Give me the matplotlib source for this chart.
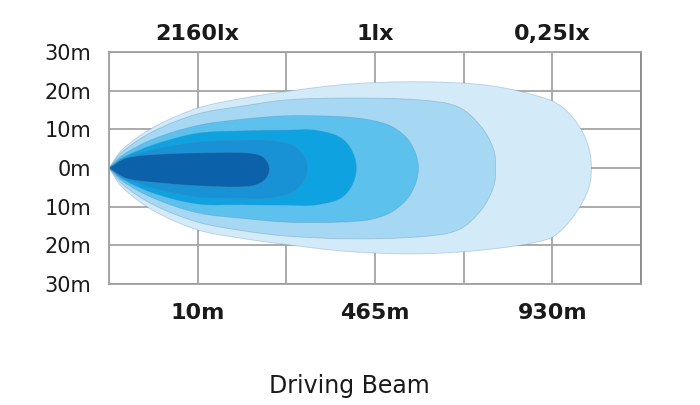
import matplotlib
matplotlib.use("Agg")
import matplotlib.pyplot as plt
import numpy as np
from matplotlib.path import Path
from matplotlib.patches import PathPatch

# Beam contour outlines (x in grid units, y in metres), lightest to darkest.
# Each outline starts at the lamp (0, 0), runs along the top edge to the
# far tip and comes back along the bottom edge.
beam_x = [
    [0, 0.15, 0.5, 1, 1.5, 2, 2.7, 3.5, 4.3, 4.95, 5.15, 5.33, 5.42, 5.44,
     5.42, 5.33, 5.15, 4.95, 4.3, 3.5, 2.7, 2, 1.5, 1, 0.5, 0.15],
    [0, 0.15, 0.5, 1, 1.5, 2, 2.7, 3.5, 3.94, 4.2, 4.34, 4.36,
     4.34, 4.2, 3.94, 3.5, 2.7, 2, 1.5, 1, 0.5, 0.15],
    [0, 0.15, 0.5, 1, 1.5, 2, 2.6, 2.95, 3.2, 3.4, 3.49,
     3.4, 3.2, 2.95, 2.6, 2, 1.5, 1, 0.5, 0.15],
    [0, 0.15, 0.5, 1, 1.5, 2, 2.35, 2.66, 2.79,
     2.66, 2.35, 2, 1.5, 1, 0.5, 0.15],
    [0, 0.15, 0.5, 1, 1.5, 1.87, 2.12, 2.24,
     2.12, 1.87, 1.5, 1, 0.5, 0.15],
    [0, 0.2, 0.6, 1, 1.55, 1.74, 1.81,
     1.74, 1.55, 1, 0.6, 0.2],
]
beam_y = [
    [0, 4.8, 10.5, 15.5, 18, 19.8, 21.7, 22.3, 21.3, 17.8, 15, 9.8, 4.5, 0,
     -4.5, -9.3, -15, -18.4, -21, -22.2, -21.6, -19.8, -18.2, -16, -11, -5],
    [0, 4.2, 9.5, 14, 16, 17.6, 18.1, 17.6, 15.8, 10.6, 4.7, 0,
     -4.7, -10.8, -16, -17.8, -18.3, -17.6, -16.2, -14, -9.5, -4.2],
    [0, 3.3, 7.5, 11, 12.6, 13.5, 13.3, 12.4, 10.6, 6.5, 0,
     -6.8, -11.2, -13.3, -14, -14, -13, -11.6, -7.8, -3.4],
    [0, 2.6, 6, 9, 9.6, 9.8, 9.7, 7, 0,
     -7, -9.5, -9.6, -9.5, -9.3, -6.5, -2.8],
    [0, 2.1, 4.8, 6.7, 7.2, 7.0, 5.2, 0,
     -5.4, -7.6, -7.8, -7.5, -5.2, -2.3],
    [0, 2.6, 3.6, 3.9, 3.9, 2.8, -0.3,
     -3.4, -4.8, -4.6, -3.9, -2.7],
]
beam_colors = ["#d3eaf8", "#a6d7f3", "#5dc1ee", "#0ea2e1", "#1991d5", "#0b62aa"]

lux_labels = ["2160lx", "1lx", "0,25lx"]
dist_labels = ["10m", "465m", "930m"]
label_pos = [1, 3, 5]
y_ticks = [30, 20, 10, 0, -10, -20, -30]
y_labels = ["30m", "20m", "10m", "0m", "10m", "20m", "30m"]


# Smooth closed outline through the points; the lamp point stays a corner.
def smooth_path(xs, ys, sx=89.0, sy=3.87):
    p = np.column_stack([np.array(xs) * sx, np.array(ys) * sy])
    n = len(p)
    t_in, t_out = [], []
    for i in range(n):
        if i == 0:
            a = p[0] - p[-1]
            b = p[1] - p[0]
            t_in.append(a / np.hypot(*a))
            t_out.append(b / np.hypot(*b))
        else:
            d = p[(i + 1) % n] - p[i - 1]
            t_in.append(d / np.hypot(*d))
            t_out.append(d / np.hypot(*d))
    verts = [p[0]]
    codes = [Path.MOVETO]
    for i in range(n):
        j = (i + 1) % n
        a, b = p[i], p[j]
        L = np.hypot(*(b - a)) / 3
        verts += [a + t_out[i] * L, b - t_in[j] * L, b]
        codes += [Path.CURVE4] * 3
    verts = np.array(verts) / [sx, sy]
    return Path(verts, codes)


fig = plt.figure(figsize=(7, 4.05), dpi=100)
ax = fig.add_axes([109 / 700, 1 - 284 / 405, 532 / 700, 232 / 405])
ax.set_xlim(0, 6)
ax.set_ylim(-30, 30)
ax.set_axisbelow(True)

for xs, ys, c in zip(beam_x, beam_y, beam_colors):
    ax.add_patch(PathPatch(smooth_path(xs, ys), facecolor=c,
                           edgecolor=(0.35, 0.55, 0.7, 0.35), lw=0.6))

ax.set_xticks(range(7), minor=True)
ax.set_xticks(label_pos)
ax.set_xticklabels(dist_labels, fontsize=16, fontweight="bold", color="#1a1a1a")
ax.set_yticks(y_ticks)
ax.set_yticklabels(y_labels, fontsize=15, color="#1a1a1a")
ax.tick_params(axis="both", which="both", length=0)
ax.tick_params(axis="x", pad=14)
ax.tick_params(axis="y", pad=13)
ax.grid(True, which="both", axis="x", color="#a5a5a5", lw=1.3)
ax.grid(True, which="major", axis="y", color="#a5a5a5", lw=1.3)
for s in ax.spines.values():
    s.set_color("#a0a0a0")
    s.set_linewidth(1.3)
ax.spines["right"].set_color("#8a8a8a")

top = ax.secondary_xaxis("top")
top.set_xticks(label_pos)
top.set_xticklabels(lux_labels, fontsize=16, fontweight="bold", color="#1a1a1a")
top.tick_params(length=0, pad=6)
top.spines["top"].set_visible(False)

fig.text(349 / 700, 1 - 393 / 405, "Driving Beam", fontsize=17,
         ha="center", va="baseline", color="#1a1a1a")

fig.savefig("out.png", dpi=100, facecolor="white")
